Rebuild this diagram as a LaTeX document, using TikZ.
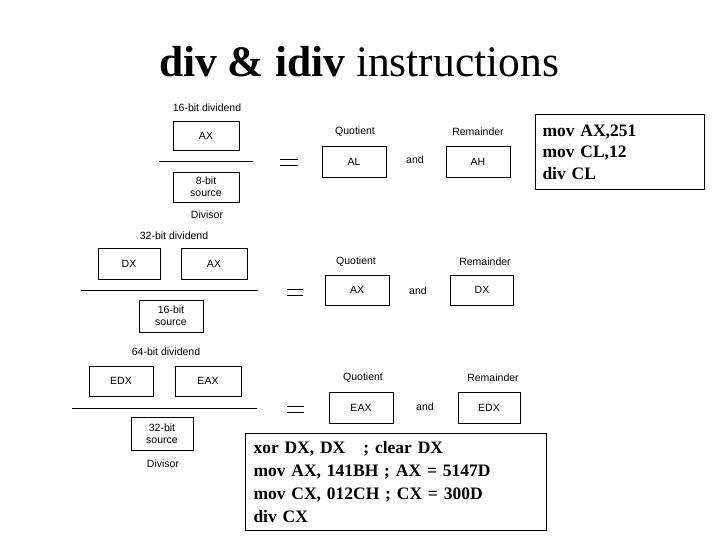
\documentclass[tikz,border=0pt]{standalone}
\usepackage{fontspec}
\setmainfont{Liberation Serif}
\newfontfamily\diagfont{Liberation Sans}
\usetikzlibrary{positioning}

\begin{document}
\begin{tikzpicture}[x=1bp,y=-1bp,
  regbox/.style={draw,line width=0.8bp,minimum width=64bp,minimum height=30bp,inner sep=0pt,align=center,font=\diagfont\fontsize{10.5bp}{12bp}\selectfont},
  lbl/.style={inner sep=0pt,font=\diagfont\fontsize{10.5bp}{12bp}\selectfont},
  codebox/.style={draw,line width=1bp,anchor=north west,align=left,inner ysep=0pt},
  rule/.style={line width=0.8bp}]
\useasboundingbox (0,0) rectangle (720,540);
\node[anchor=base,inner sep=0pt] (title) at (359,77) {\fontsize{43.5bp}{48bp}\selectfont\textbf{div \& idiv} instructions};
% 8-bit divisor
\node[lbl] (dvd1) at (207,108) {16-bit dividend};
\node[regbox,minimum width=66bp,minimum height=29bp] (ax1) at (206,136) {AX};
\coordinate (f1l) at (159,161); \coordinate (f1r) at (253,161);
\draw[rule] (f1l) -- (f1r);
\node[regbox,minimum width=66bp,minimum height=30bp] (src1) at (206,187) {8-bit\\source};
\node[lbl] (dvs1) at (207,215) {Divisor};
\draw[rule] (280,159) -- (298,159) (280,165) -- (298,165);
\node[lbl] (quo1) at (355,132) {Quotient};
\node[regbox,minimum height=31bp] (al) at (354,162) {AL};
\node[lbl] (and1) at (415,160) {and};
\node[lbl] (rem1) at (478,132) {Remainder};
\node[regbox,minimum height=31bp] (ah) at (478,162) {AH};
% 16-bit divisor
\node[lbl] (dvd2) at (174,236) {32-bit dividend};
\node[regbox,minimum width=62bp,minimum height=31bp] (dx2) at (129,264) {DX};
\node[regbox,minimum width=66bp,minimum height=31bp] (ax2) at (214,264) {AX};
\coordinate (f2l) at (81,290); \coordinate (f2r) at (258,290);
\draw[rule] (f2l) -- (f2r);
\node[regbox,minimum height=32bp] (src2) at (171,316) {16-bit\\source};
\draw[rule] (287,289) -- (303,289) (287,295) -- (303,295);
\node[lbl] (quo2) at (356,262) {Quotient};
\node[regbox] (axq) at (357,290) {AX};
\node[lbl] (and2) at (418,291) {and};
\node[lbl] (rem2) at (485,262) {Remainder};
\node[regbox,minimum width=63bp] (dxr) at (482,290) {DX};
% 32-bit divisor
\node[lbl] (dvd3) at (166,352) {64-bit dividend};
\node[regbox] (edx3) at (121,381) {EDX};
\node[regbox,minimum width=66bp] (eax3) at (208,381) {EAX};
\coordinate (f3l) at (72,408); \coordinate (f3r) at (257,408);
\draw[rule] (f3l) -- (f3r);
\node[regbox,minimum width=62bp,minimum height=33bp] (src3) at (162,434) {32-bit\\source};
\node[lbl] (dvs3) at (163,464) {Divisor};
\draw[rule] (287,406) -- (304,406) (287,412) -- (304,412);
\node[lbl] (quo3) at (363,378) {Quotient};
\node[regbox,minimum height=31bp] (eaxq) at (361,408) {EAX};
\node[lbl] (and3) at (425,407) {and};
\node[lbl] (rem3) at (493,378) {Remainder};
\node[regbox,minimum width=62bp,minimum height=31bp] (edxr) at (489,408) {EDX};
% code
\node[codebox,inner xsep=7bp,text width=155bp,minimum height=75bp,font=\bfseries\fontsize{17.5bp}{21.5bp}\selectfont] (code1) at (535,114)
  {mov AX,251\\mov CL,12\\div CL};
\node[codebox,inner xsep=8bp,text width=285bp,minimum height=97bp,font=\bfseries\fontsize{17.5bp}{23bp}\selectfont] (code2) at (245,433)
  {xor DX, DX\hspace{18bp}; clear DX\\mov AX, 141BH ; AX = 5147D\\mov CX, 012CH ; CX = 300D\\div CX};
\end{tikzpicture}
\end{document}
